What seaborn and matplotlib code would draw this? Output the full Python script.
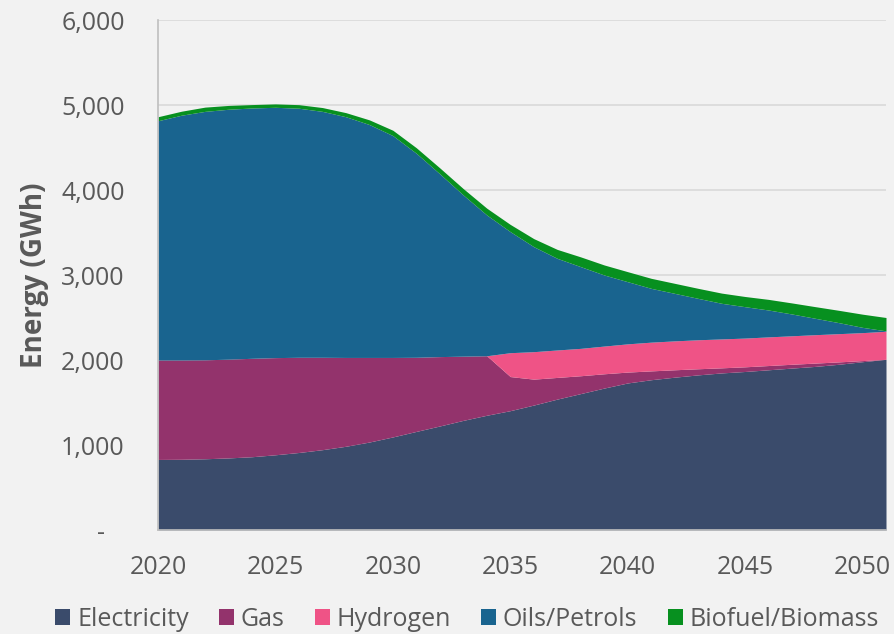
import numpy as np
import matplotlib
matplotlib.use("Agg")
import matplotlib.pyplot as plt
import seaborn as sns
from matplotlib.patches import Patch
from matplotlib.ticker import FuncFormatter

# Data (GWh)
years = list(range(2020, 2052))

electricity = [830, 832, 838, 848, 862, 885, 912, 945, 985, 1035, 1095, 1160, 1224, 1290, 1350, 1404,
               1470, 1540, 1605, 1670, 1730, 1768, 1798, 1825, 1848, 1865, 1885, 1905, 1925, 1950, 1980, 2008]
gas = [1170, 1168, 1164, 1162, 1158, 1143, 1120, 1087, 1045, 995, 935, 872, 816, 755, 700, 401,
       305, 255, 210, 168, 128, 104, 87, 72, 60, 55, 50, 45, 39, 28, 13, 0]
hydrogen = [0, 0, 0, 0, 0, 0, 0, 0, 0, 0, 0, 0, 0, 0, 0, 281,
            323, 323, 322, 326, 332, 338, 340, 341, 340, 338, 337, 335, 334, 332, 329, 330]
oils = [2815, 2880, 2923, 2940, 2945, 2945, 2930, 2893, 2832, 2740, 2610, 2400, 2150, 1896, 1656, 1424,
        1235, 1078, 961, 836, 731, 633, 559, 487, 419, 369, 316, 256, 192, 129, 62, 5]
biofuel = [47, 47, 50, 45, 40, 40, 42, 45, 48, 55, 63, 65, 70, 75, 80, 85,
           95, 105, 115, 118, 118, 118, 118, 118, 120, 120, 125, 130, 137, 145, 155, 157]

labels = ["Electricity", "Gas", "Hydrogen", "Oils/Petrols", "Biofuel/Biomass"]
colors = ["#3a4b6b", "#93336c", "#ef5386", "#19648f", "#07901f"]

sns.set_style("white")
plt.rcParams['font.family'] = ['Open Sans', 'DejaVu Sans']

bg = "#f2f2f2"
txt = "#595959"

fig = plt.figure(figsize=(8.94, 6.34), dpi=100, facecolor=bg)
ax = fig.add_axes([158 / 894, 1 - 530 / 634, (886 - 158) / 894, (530 - 20) / 634])
ax.set_facecolor(bg)

ax.stackplot(years, electricity, gas, hydrogen, oils, biofuel, colors=colors, labels=labels,
             linewidth=0, zorder=2)

ax.set_xlim(2020, 2051)
ax.set_ylim(0, 6000)
ax.set_xticks(range(2020, 2051, 5))
ax.set_yticks(range(0, 6001, 1000))
# accounting style: zero shown as a dash
ax.yaxis.set_major_formatter(FuncFormatter(lambda v, p: "-   " if v == 0 else f"{int(v):,}"))

ax.grid(axis="y", color="#d9d9d9", linewidth=1.2, zorder=0)
ax.set_axisbelow(True)
for s in ["top", "right"]:
    ax.spines[s].set_visible(False)
for s in ["left", "bottom"]:
    ax.spines[s].set_color("#bfbfbf")
    ax.spines[s].set_linewidth(1.2)

ax.tick_params(axis="both", length=0, labelsize=18, labelcolor=txt)
ax.tick_params(axis="y", pad=24)
ax.tick_params(axis="x", pad=18)

ax.set_ylabel("Energy (GWh)", fontsize=20, fontweight="bold", color=txt)
ax.yaxis.set_label_coords(-0.15, 0.5)

handles = [Patch(facecolor=c, edgecolor="none") for c in colors]
fig.legend(handles, labels, loc="center", bbox_to_anchor=(467 / 894, 1 - 619 / 634), ncol=5,
           frameon=False, fontsize=18, labelcolor=txt, handlelength=0.6, handleheight=0.6,
           handletextpad=0.28, columnspacing=1.2, borderaxespad=0)

fig.savefig("out.png", dpi=100, facecolor=bg)
